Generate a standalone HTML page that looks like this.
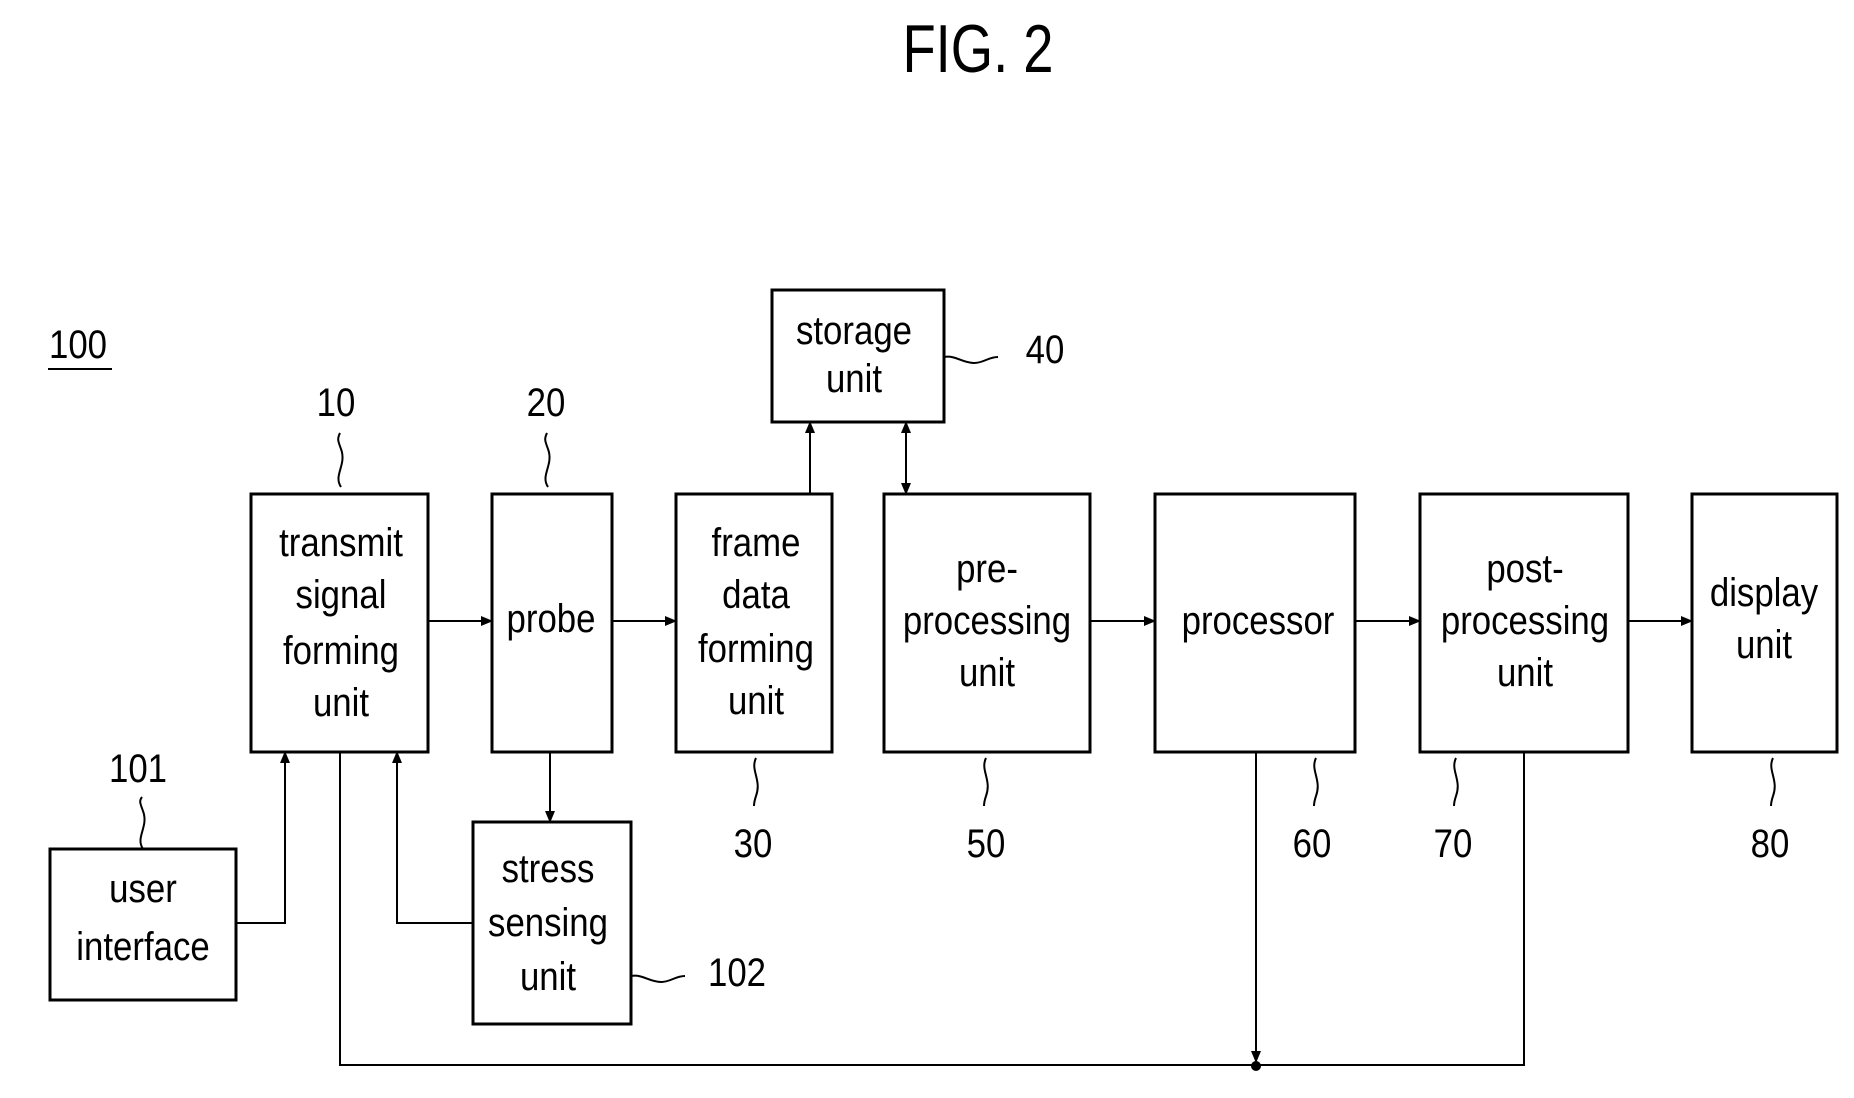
<!DOCTYPE html>
<html><head><meta charset="utf-8"><style>
html,body{margin:0;padding:0;background:#fff;}
svg{display:block;}
text{font-family:"Liberation Sans",sans-serif;fill:#000;}
</style></head><body>
<svg width="1854" height="1098" viewBox="0 0 1854 1098" xmlns="http://www.w3.org/2000/svg">
<defs>
<marker id="a" markerWidth="12" markerHeight="10" refX="11" refY="5" orient="auto" markerUnits="userSpaceOnUse">
<path d="M0,0 L12,5 L0,10 z" fill="#000"/></marker>
<marker id="s" markerWidth="12" markerHeight="10" refX="1" refY="5" orient="auto" markerUnits="userSpaceOnUse">
<path d="M12,0 L0,5 L12,10 z" fill="#000"/></marker>
</defs>
<g transform="translate(978,72) scale(0.8,1)"><text x="0" y="0" font-size="68" text-anchor="middle">FIG. 2</text></g>

<g fill="none" stroke="#000" stroke-width="3">
<rect x="251" y="494" width="177" height="258"/>
<rect x="492" y="494" width="120" height="258"/>
<rect x="676" y="494" width="156" height="258"/>
<rect x="772" y="290" width="172" height="132"/>
<rect x="884" y="494" width="206" height="258"/>
<rect x="1155" y="494" width="200" height="258"/>
<rect x="1420" y="494" width="208" height="258"/>
<rect x="1692" y="494" width="145" height="258"/>
<rect x="50" y="849" width="186" height="151"/>
<rect x="473" y="822" width="158" height="202"/>
</g>
<g fill="none" stroke="#000" stroke-width="2">
<line x1="428" y1="621" x2="492" y2="621" marker-end="url(#a)"/>
<line x1="612" y1="621" x2="676" y2="621" marker-end="url(#a)"/>
<line x1="1090" y1="621" x2="1155" y2="621" marker-end="url(#a)"/>
<line x1="1355" y1="621" x2="1420" y2="621" marker-end="url(#a)"/>
<line x1="1628" y1="621" x2="1692" y2="621" marker-end="url(#a)"/>
<line x1="810" y1="494" x2="810" y2="422" marker-end="url(#a)"/>
<line x1="906" y1="494" x2="906" y2="422" marker-end="url(#a)" marker-start="url(#s)"/>
<line x1="550" y1="752" x2="550" y2="822" marker-end="url(#a)"/>
<polyline points="236,923 285,923 285,752" marker-end="url(#a)"/>
<polyline points="473,923 397,923 397,752" marker-end="url(#a)"/>
<polyline points="340,752 340,1065 1524,1065 1524,752"/>
<line x1="1256" y1="752" x2="1256" y2="1062" marker-end="url(#a)"/>
<line x1="48" y1="369" x2="112" y2="369"/>
<path d="M341,487 c-8,-12 6,-22 0,-38 c-3,-8 -4,-10 -1,-16"/>
<path d="M548,487 c-8,-12 6,-22 0,-38 c-3,-8 -4,-10 -1,-16"/>
<path d="M944,357 c12,-2 18,6 30,6 c10,0 14,-6 24,-6"/>
<path d="M143,849 c-8,-12 6,-22 0,-38 c-3,-8 -4,-10 -1,-14"/>
<path d="M631,976 c12,-2 18,6 30,6 c10,0 14,-6 24,-6"/>
<path d="M756,758 c-6,12 6,22 0,38 c-2,6 -2,8 -2,10"/>
<path d="M986,758 c-6,12 6,22 0,38 c-2,6 -2,8 -2,10"/>
<path d="M1316,758 c-6,12 6,22 0,38 c-2,6 -2,8 -2,10"/>
<path d="M1456,758 c-6,12 6,22 0,38 c-2,6 -2,8 -2,10"/>
<path d="M1773,758 c-6,12 6,22 0,38 c-2,6 -2,8 -2,10"/>
</g>
<circle cx="1256" cy="1066" r="5" fill="#000"/>

<g font-size="40" text-anchor="middle">
<g transform="translate(341,0) scale(0.87,1)"><text y="556">transmit</text><text y="608">signal</text><text y="664">forming</text><text y="716">unit</text></g>
<g transform="translate(551,0) scale(0.87,1)"><text y="632">probe</text></g>
<g transform="translate(756,0) scale(0.87,1)"><text y="556">frame</text><text y="608">data</text><text y="662">forming</text><text y="714">unit</text></g>
<g transform="translate(854,0) scale(0.87,1)"><text y="344">storage</text><text y="392">unit</text></g>
<g transform="translate(987,0) scale(0.87,1)"><text y="582">pre-</text><text y="634">processing</text><text y="686">unit</text></g>
<g transform="translate(1258,0) scale(0.87,1)"><text y="634">processor</text></g>
<g transform="translate(1525,0) scale(0.87,1)"><text y="582">post-</text><text y="634">processing</text><text y="686">unit</text></g>
<g transform="translate(1764,0) scale(0.87,1)"><text y="606">display</text><text y="658">unit</text></g>
<g transform="translate(143,0) scale(0.87,1)"><text y="902">user</text><text y="960">interface</text></g>
<g transform="translate(548,0) scale(0.87,1)"><text y="882">stress</text><text y="936">sensing</text><text y="990">unit</text></g>

<g transform="translate(78,0) scale(0.87,1)"><text y="358">100</text></g>
<g transform="translate(336,0) scale(0.87,1)"><text y="416">10</text></g>
<g transform="translate(546,0) scale(0.87,1)"><text y="416">20</text></g>
<g transform="translate(1045,0) scale(0.87,1)"><text y="363">40</text></g>
<g transform="translate(138,0) scale(0.87,1)"><text y="782">101</text></g>
<g transform="translate(737,0) scale(0.87,1)"><text y="986">102</text></g>
<g transform="translate(753,0) scale(0.87,1)"><text y="857">30</text></g>
<g transform="translate(986,0) scale(0.87,1)"><text y="857">50</text></g>
<g transform="translate(1312,0) scale(0.87,1)"><text y="857">60</text></g>
<g transform="translate(1453,0) scale(0.87,1)"><text y="857">70</text></g>
<g transform="translate(1770,0) scale(0.87,1)"><text y="857">80</text></g>
</g>
</svg>
</body></html>
